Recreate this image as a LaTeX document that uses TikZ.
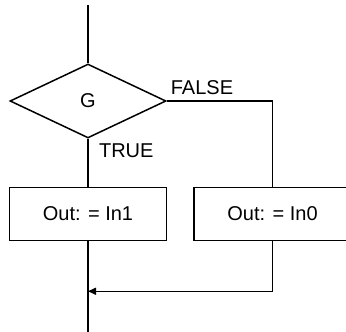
\documentclass[tikz,border=0pt]{standalone}
\usepackage{fontspec}
\setmainfont{Liberation Sans}
\usepackage{tikz}
\usetikzlibrary{positioning, arrows.meta, shapes.geometric}

\begin{document}
\begin{tikzpicture}[x=1pt, y=-1pt, line width=1.5pt, font=\fontsize{20}{24}\selectfont,
    decision/.style={diamond, draw, aspect=2.1, inner sep=0pt, minimum width=156pt, minimum height=74pt},
    assign/.style={rectangle, draw, minimum width=157pt, minimum height=53pt},
    flow/.style={-{Triangle[length=8pt, width=7pt]}}]
    \useasboundingbox (0,0) rectangle (346,332);
    \node (cond) [decision] at (88,101) {\raisebox{-4pt}{G}};
    \coordinate[above=58pt of cond] (start);
    \node (outtrue) [assign, below=48pt of cond] {Out: = In1};
    \node (outfalse) [assign, right=26pt of outtrue] {Out: = In0};
    \coordinate[below=50pt of outtrue] (join);
    \coordinate[below=92pt of outtrue] (finish);

    \draw (start) -- (cond);
    \draw (cond) -- node[pos=0.25, right=7pt] {TRUE} (outtrue);
    \draw (cond.east) -- node[pos=0, above right=2pt and 0pt] {FALSE} (cond.east -| outfalse) -- (outfalse);
    \draw[flow] (outfalse) |- (join);
    \draw (outtrue) -- (finish);
\end{tikzpicture}
\end{document}
